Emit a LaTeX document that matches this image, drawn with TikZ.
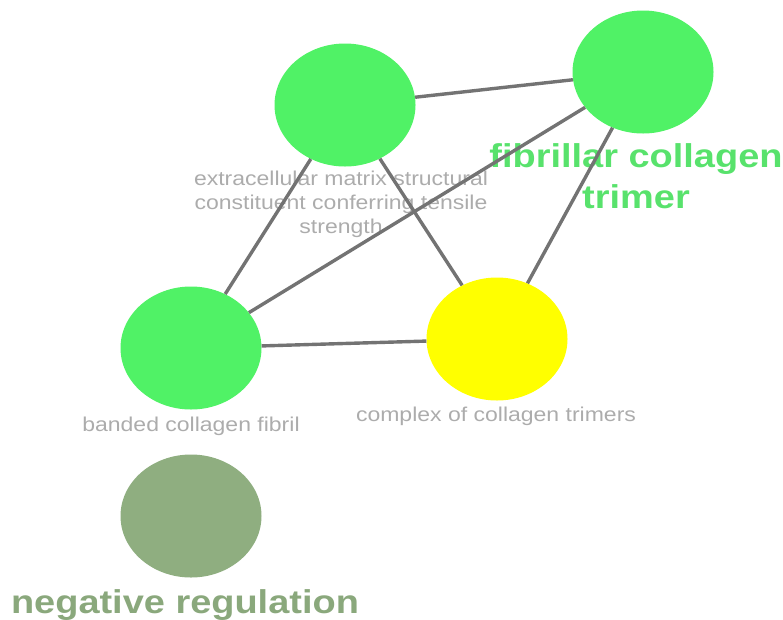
\documentclass[tikz,border=0pt]{standalone}
\usepackage{fontspec}
\setmainfont{Liberation Sans}
\usetikzlibrary{shapes.geometric}
\definecolor{nodegreen}{RGB}{80,242,102}
\definecolor{nodeyellow}{RGB}{255,255,0}
\definecolor{nodeolive}{RGB}{143,174,128}
\definecolor{biggreen}{RGB}{88,226,108}
\definecolor{bigolive}{RGB}{138,168,124}
\definecolor{labgray}{RGB}{172,172,172}
\definecolor{edgegray}{RGB}{115,115,115}
\begin{document}
\begin{tikzpicture}[x=1pt,y=-1pt,
  term/.style={ellipse, minimum width=141pt, minimum height=123pt, inner sep=0pt},
  edge/.style={draw=edgegray, line width=3.4pt},
  small/.style={text=labgray, font=\fontsize{20}{24}\selectfont, inner sep=0pt, anchor=base, align=center},
  big/.style={font=\bfseries\fontsize{33}{41}\selectfont, inner sep=0pt, anchor=base, align=center}]
\useasboundingbox (0,0) rectangle (783,619);
\node[term, fill=nodegreen] (ecm) at (345,105) {};
\node[term, fill=nodegreen] (fib) at (643,72) {};
\node[term, fill=nodegreen] (band) at (191,348) {};
\node[term, fill=nodeyellow] (cplx) at (497,339) {};
\node[term, fill=nodeolive] (neg) at (191,516) {};
\node[small] (ecmlab) at (341,233) {\scalebox{1.15}[1]{extracellular matrix structural}\\\scalebox{1.15}[1]{constituent conferring tensile}\\\scalebox{1.15}[1]{strength}};
\node[big, text=biggreen] (fiblab) at (636,208) {\scalebox{1.15}[1]{fibrillar collagen}\\\scalebox{1.15}[1]{trimer}};
\node[small] (bandlab) at (191,431) {\scalebox{1.15}[1]{banded collagen fibril}};
\node[small] (cplxlab) at (496,421) {\scalebox{1.15}[1]{complex of collagen trimers}};
\node[big, text=bigolive] (neglab) at (185,613) {\scalebox{1.15}[1]{negative regulation}};
\draw[edge] (ecm) -- (fib);
\draw[edge] (ecm) -- (band);
\draw[edge] (ecm) -- (cplx);
\draw[edge] (fib) -- (band);
\draw[edge] (fib) -- (cplx);
\draw[edge] (band) -- (cplx);
\end{tikzpicture}
\end{document}
